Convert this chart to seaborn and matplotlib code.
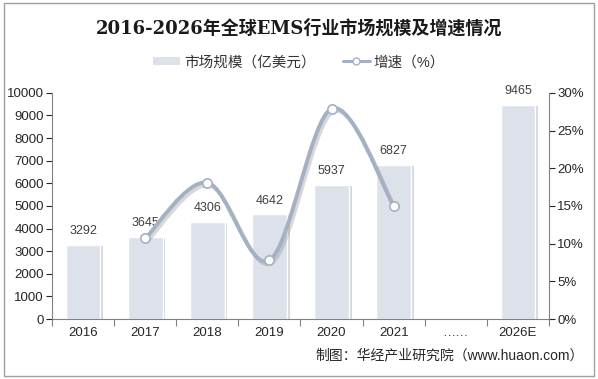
import numpy as np
import pandas as pd
import matplotlib
matplotlib.use('Agg')
import matplotlib.pyplot as plt
import matplotlib.patheffects as pe
from matplotlib.path import Path
from matplotlib.patches import PathPatch, Patch, Rectangle
from matplotlib.lines import Line2D
import seaborn as sns

# chart data
categories = ['2016', '2017', '2018', '2019', '2020', '2021', '……', '2026E']
bar_years = ['2016', '2017', '2018', '2019', '2020', '2021', '2026E']
market_size = [3292, 3645, 4306, 4642, 5937, 6827, 9465]
growth_years = ['2017', '2018', '2019', '2020', '2021']
growth_rate = [10.7, 18.1, 7.8, 27.9, 15.0]

sns.set_theme(style='white')
plt.rcParams['font.family'] = ['Liberation Sans', 'Noto Sans CJK SC', 'DejaVu Sans']

BAR = '#dde2ea'
LINE = '#a4b0c4'
TXT = '#262626'

fig = plt.figure(figsize=(5.98, 3.79), dpi=100)
ax = fig.add_axes([0.087, 0.158, 0.831, 0.597])

df = pd.DataFrame({'year': bar_years, 'size': market_size})
sns.barplot(data=df, x='year', y='size', order=categories, color=BAR,
            saturation=1, width=0.56, ax=ax)
for p in ax.patches:
    p.set_path_effects([pe.SimplePatchShadow(offset=(2, -1), shadow_rgbFace='#b0b0b0', alpha=0.5), pe.Normal()])

for x, v in zip([categories.index(y) for y in bar_years], market_size):
    ax.text(x, v + 330, str(v), ha='center', va='bottom', fontsize=9, color='#404040')

ax.set_ylim(0, 10000)
ax.set_xlim(-0.5, len(categories) - 0.5)
ax.set_yticks(range(0, 10001, 1000))
ax.set_xlabel('')
ax.set_ylabel('')
ax.tick_params(axis='y', labelsize=9.5, colors=TXT, length=4, width=0.8, direction='out', left=True, pad=2)
ax.tick_params(axis='x', labelsize=9.5, colors=TXT, length=0, pad=6)
ax.set_xticks(np.arange(-0.5, len(categories)), minor=True)
ax.tick_params(axis='x', which='minor', length=5, width=0.8, bottom=True, color='#808080')
for s in ['left', 'bottom']:
    ax.spines[s].set_color('#808080')
    ax.spines[s].set_linewidth(0.8)
for s in ['top', 'right']:
    ax.spines[s].set_visible(False)
for t in ax.get_yticklines():
    t.set_color('#808080')

# growth rate on the right axis, smoothed like the original
ax2 = ax.twinx()
ax2.set_ylim(0, 30)
ax2.set_yticks(range(0, 31, 5))
ax2.set_yticklabels([f'{v}%' for v in range(0, 31, 5)])
ax2.tick_params(axis='y', labelsize=9.5, colors=TXT, length=4, width=0.8, direction='out', pad=2)
for t in ax2.get_yticklines():
    t.set_color('#808080')
for s in ['left', 'bottom', 'top']:
    ax2.spines[s].set_visible(False)
ax2.spines['right'].set_color('#808080')
ax2.spines['right'].set_linewidth(0.8)

gx = np.array([categories.index(y) for y in growth_years], dtype=float)
gy = np.array(growth_rate)
pts = np.column_stack([gx, gy])
verts = [tuple(pts[0])]
codes = [Path.MOVETO]
n = len(pts)
for i in range(n - 1):
    p0 = pts[i - 1] if i > 0 else pts[i]
    p1, p2 = pts[i], pts[i + 1]
    p3 = pts[i + 2] if i + 2 < n else pts[i + 1]
    c1 = p1 + (p2 - p0) / 6
    c2 = p2 - (p3 - p1) / 6
    verts += [tuple(c1), tuple(c2), tuple(p2)]
    codes += [Path.CURVE4] * 3
curve = PathPatch(Path(verts, codes), facecolor='none', edgecolor=LINE, lw=2.8,
                  path_effects=[pe.SimpleLineShadow(offset=(1.5, -2), shadow_color='#909090', alpha=0.35), pe.Normal()])
ax2.add_patch(curve)
sns.scatterplot(x=gx, y=gy, ax=ax2, s=45, color='white', edgecolor=LINE, linewidth=1.2, zorder=5)

# title and legend
fig.text(0.5, 0.925, '2016-2026年全球EMS行业市场规模及增速情况', ha='center', va='center',
         fontsize=13, fontweight='bold', color='#1a1a1a', family=['DejaVu Serif', 'Noto Sans CJK SC'])
handles = [Patch(facecolor=BAR, edgecolor='none'),
           Line2D([0], [0], color=LINE, lw=2.2, marker='o', markersize=5,
                  markerfacecolor='white', markeredgecolor=LINE)]
fig.legend(handles, ['市场规模（亿美元）', '增速（%）'], loc='center', bbox_to_anchor=(0.5, 0.836),
           ncol=2, frameon=False, fontsize=10.5, handlelength=1.85, handleheight=0.5,
           handletextpad=0.25, columnspacing=1.85, labelcolor='#333333')

fig.text(0.976, 0.063, '制图：华经产业研究院（www.huaon.com）', ha='right', va='center',
         fontsize=10, color=TXT)

fig.patches.append(Rectangle((0.006, 0.008), 0.988, 0.984, transform=fig.transFigure,
                             fill=False, edgecolor='#a0a0a0', lw=1))

fig.savefig('out.png', dpi=100)
